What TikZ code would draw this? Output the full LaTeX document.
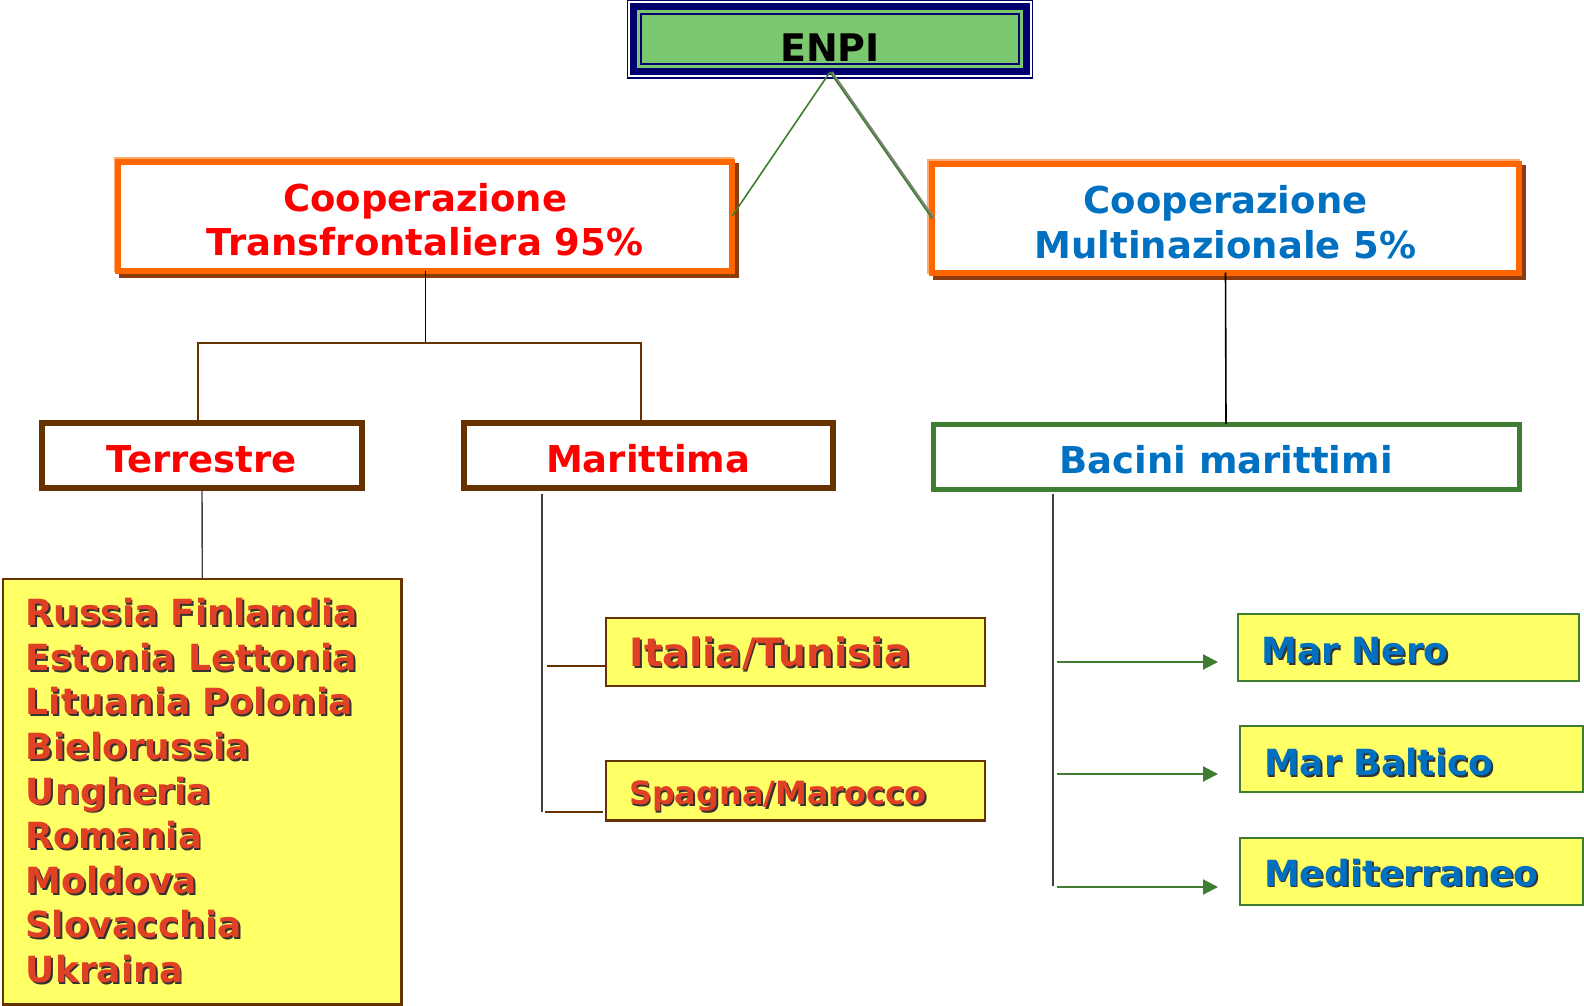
\documentclass[tikz,border=0pt]{standalone}
\usepackage{fontspec}
\setmainfont{DejaVu Sans}
\usepackage{tikz}
\usetikzlibrary{arrows.meta}
\definecolor{navy}{RGB}{0,0,110}
\definecolor{enpigreen}{RGB}{124,200,110}
\definecolor{orangeb}{RGB}{255,102,0}
\definecolor{orangelight}{RGB}{255,170,110}
\definecolor{shadowbrown}{RGB}{140,60,15}
\definecolor{boxbrown}{RGB}{102,51,0}
\definecolor{linegreen}{RGB}{62,125,50}
\definecolor{yellowbg}{RGB}{255,255,102}
\definecolor{listred}{RGB}{224,64,36}
\definecolor{headblue}{RGB}{0,112,192}
\definecolor{headred}{RGB}{255,0,0}
\newcommand{\shd}[2]{\leavevmode\rlap{\kern0.9pt\raisebox{-0.9pt}{\color{black!80}#2}}{\color{#1}#2}} % 带阴影的文字
\newcommand{\lowr}[1]{\rule{0pt}{#1}} % 文字下移
\tikzset{
    box/.style={rectangle, inner sep=0pt, outer sep=0pt, align=center, font=\bfseries\fontsize{18.5}{22.15}\selectfont}, % 标题框
    coopbox/.style={box, draw=orangeb, line width=3pt, fill=white,
        preaction={draw=shadowbrown, line width=3pt, transform canvas={shift={(2pt,-2pt)}}},
        preaction={draw=orangelight, line width=3pt, transform canvas={shift={(-0.8pt,0.8pt)}}}},
    subbox/.style={box, draw=boxbrown, line width=3pt, fill=white},
    ybox/.style={rectangle, outer sep=0pt, inner ysep=0pt, fill=yellowbg, line width=1.2pt, align=left, font=\bfseries\fontsize{18}{22.3}\selectfont}, % 黄色框
    arr/.style={linegreen, line width=1pt, -{Triangle[length=7.5pt, width=7.5pt]}}
}
\begin{document}
\begin{tikzpicture}[x=0.5pt, y=-0.5pt]
    \useasboundingbox (0,0) rectangle (1584,1006);

    \node[draw=navy, line width=3.5pt, fill=enpigreen, minimum width=196.5pt, minimum height=32.75pt, inner sep=0pt, outer sep=0pt] (enpi) at (830,39.25) {};
    \draw[navy, line width=0.7pt] ([shift={(-6,-6)}]enpi.north west) rectangle ([shift={(6,6)}]enpi.south east);
    \draw[navy, line width=1pt] ([shift={(7.5,7.5)}]enpi.north west) rectangle ([shift={(-7.5,-7.5)}]enpi.south east);
    \node[font=\bfseries\fontsize{19}{22}\selectfont, anchor=base] (enpitxt) at (830,62) {ENPI};

    \node[coopbox, text=headred, minimum width=307pt, minimum height=54.5pt] (lc) at (425.25,216) {\lowr{18pt}Cooperazione\\Transfrontaliera 95\%};
    \node[coopbox, text=headblue, minimum width=293.5pt, minimum height=54.25pt] (rc) at (1225.5,218.25) {\lowr{18pt}Cooperazione\\Multinazionale 5\%};

    \node[subbox, text=headred, minimum width=160pt, minimum height=32.5pt] (terr) at (202,455.5) {\lowr{17pt}Terrestre};
    \node[subbox, text=headred, minimum width=184.25pt, minimum height=32.35pt] (mar) at (648.25,455.6) {\lowr{17pt}Marittima};
    \node[box, draw=linegreen, line width=2.5pt, fill=white, text=headblue, minimum width=293pt, minimum height=32.5pt] (bac) at (1226,456.5) {\lowr{17pt}Bacini marittimi};

    \node[ybox, draw=boxbrown, inner xsep=11.5pt, text width=176.35pt, minimum height=212.9pt] (list) at (202.3,791.6) {\shd{listred}{Russia Finlandia}\\\shd{listred}{Estonia Lettonia}\\\shd{listred}{Lituania Polonia}\\\shd{listred}{Bielorussia}\\\shd{listred}{Ungheria}\\\shd{listred}{Romania}\\\shd{listred}{Moldova}\\\shd{listred}{Slovacchia}\\\shd{listred}{Ukraina}};
    \node[ybox, draw=boxbrown, inner xsep=11.8pt, text width=165.9pt, minimum height=34pt, font=\bfseries\fontsize{19.5}{22}\selectfont] (it) at (795.5,651.7) {\lowr{17.8pt}\shd{listred}{Italia/Tunisia}};
    \node[ybox, draw=boxbrown, inner xsep=11.5pt, text width=166.5pt, minimum height=29.85pt, font=\bfseries\fontsize{16}{20}\selectfont] (sp) at (795.5,790.8) {\lowr{18.2pt}\shd{listred}{Spagna/Marocco}};

    \node[ybox, draw=linegreen, inner xsep=11.9pt, text width=146.7pt, minimum height=33.5pt] (nero) at (1408.3,647.5) {\lowr{17.1pt}\shd{headblue}{Mar Nero}};
    \node[ybox, draw=linegreen, inner xsep=11.9pt, text width=147.6pt, minimum height=32.85pt] (balt) at (1411.6,758.9) {\lowr{17.7pt}\shd{headblue}{Mar Baltico}};
    \node[ybox, draw=linegreen, inner xsep=11.9pt, text width=147.6pt, minimum height=33.5pt] (medit) at (1411.6,871.5) {\lowr{15.7pt}\shd{headblue}{Mediterraneo}};

    \coordinate (jl) at (198,343);
    \coordinate (jr) at (641,343);
    \coordinate (mtop) at (542,494);
    \coordinate (mbot) at (542,812);
    \coordinate (itl) at (547,666);
    \coordinate (spl) at (545,812);
    \coordinate (spr) at (603,812);
    \coordinate (btop) at (1053,494);
    \coordinate (bbot) at (1053,886);

    \draw[gray, line width=0.9pt, transform canvas={shift={(1pt,0pt)}}] (enpi.south) -- (rc.west);
    \draw[linegreen, line width=0.8pt] (enpi.south) -- (lc.east);
    \draw[linegreen, line width=0.8pt] (enpi.south) -- (rc.west);

    \draw[black, line width=0.6pt] (lc.south) -- (lc.south |- jl);
    \draw[boxbrown, line width=1pt] (jl |- terr.north) -- (jl) -- (jr) -- (jr |- mar.north);
    \draw[black, line width=0.8pt] (rc.south) -- (bac.north);
    \draw[black!75, line width=0.7pt] (terr.south) -- (list.north);

    \draw[black!75, line width=0.7pt] (mtop) -- (mbot);
    \draw[boxbrown, line width=1pt] (itl) -- (itl -| it.west);
    \draw[boxbrown, line width=1pt] (spl) -- (spr);

    \draw[black!75, line width=0.7pt] (btop) -- (bbot);
    \foreach \y/\n in {662/nero, 774/balt, 887/medit} {
        \coordinate (s\n) at (1056.5,\y);
        \coordinate (e\n) at (1218,\y);
        \draw[arr] (s\n) -- (e\n);
    }
\end{tikzpicture}
\end{document}
